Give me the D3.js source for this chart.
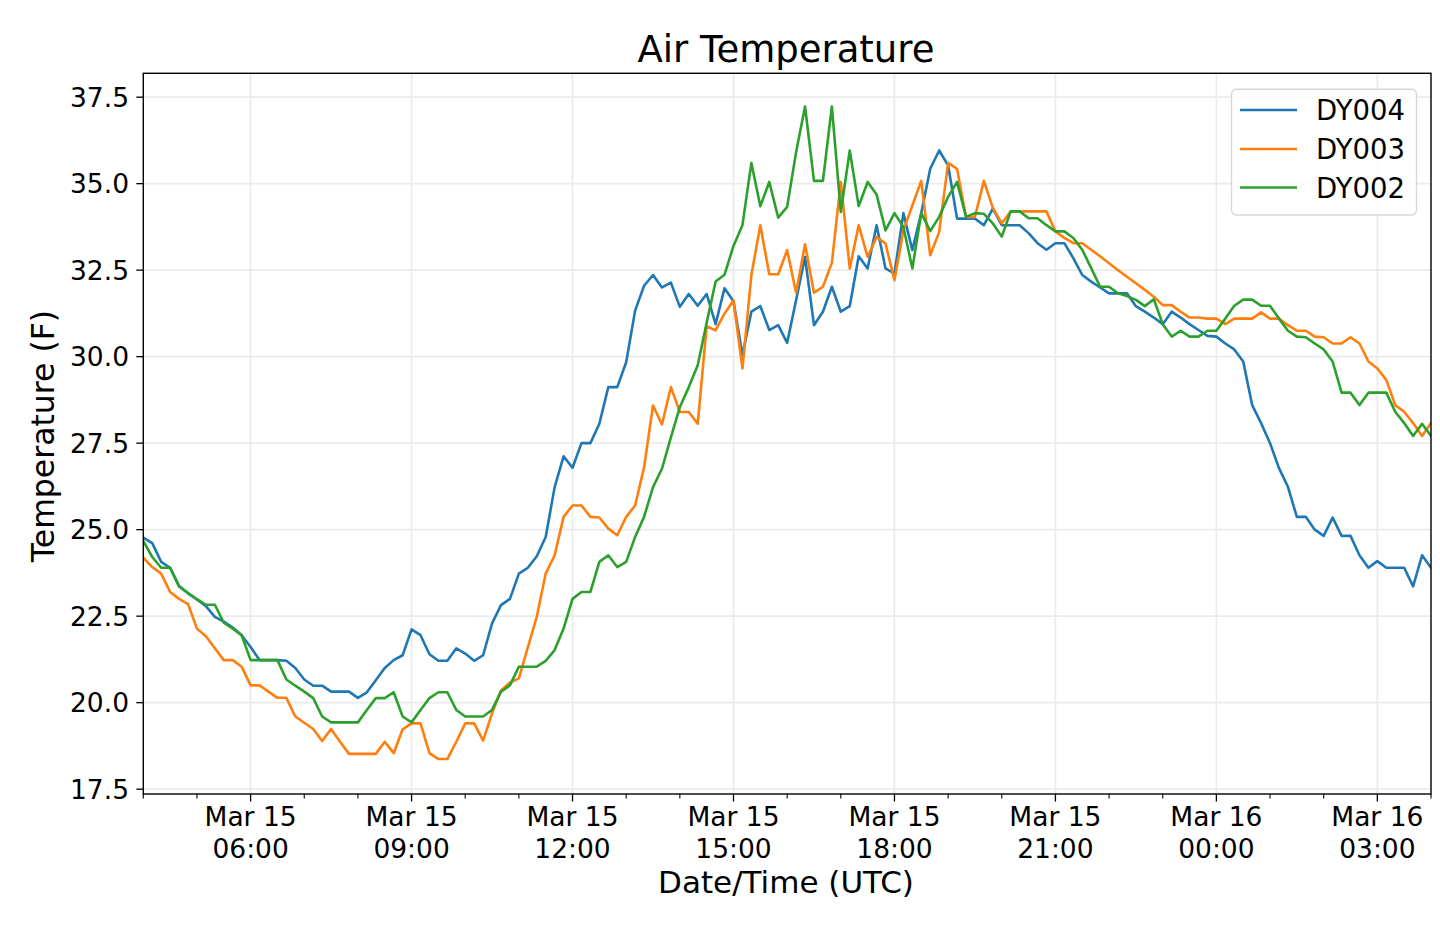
<!DOCTYPE html>
<html>
<head>
<meta charset="utf-8">
<script src="https://cdn.jsdelivr.net/npm/d3@7"></script>
<style>
  html, body { margin: 0; padding: 0; background: #fff; }
  svg { display: block; font-family: "DejaVu Sans", sans-serif; }
</style>
</head>
<body>
<svg id="chart" width="1440" height="925"></svg>
<script>
// ---------- data ----------
const startTime = "2019-03-15T04:00:00Z";
const endTime = "2019-03-16T04:00:00Z";
const stepMinutes = 10;

const seriesNames = ["DY004", "DY003", "DY002"];
const seriesColors = ["#1f77b4", "#ff7f0e", "#2ca02c"];

const dy004 = [24.77,24.61,24.07,23.9,23.36,23.16,22.98,22.79,22.48,22.34,22.17,21.95,21.61,21.23,21.23,21.23,21.21,21.0,20.67,20.49,
  20.49,20.32,20.32,20.32,20.14,20.3,20.65,21.0,21.23,21.37,22.12,21.95,21.4,21.21,21.21,21.57,21.42,21.21,21.37,22.29,
  22.82,23.0,23.73,23.9,24.23,24.79,26.23,27.12,26.79,27.5,27.5,28.06,29.12,29.12,29.84,31.33,32.05,32.36,32.0,32.14,
  31.44,31.81,31.47,31.81,30.94,31.98,31.6,30.05,31.3,31.46,30.77,30.91,30.4,31.63,32.88,30.91,31.3,32.02,31.3,31.46,
  32.9,32.55,33.8,32.55,32.4,34.15,33.08,34.15,35.43,35.96,35.53,33.99,33.99,33.99,33.8,34.28,33.8,33.8,33.8,33.57,
  33.28,33.09,33.28,33.28,32.85,32.36,32.17,32.0,31.83,31.83,31.83,31.46,31.3,31.13,30.94,31.3,31.13,30.94,30.77,30.6,
  30.58,30.38,30.21,29.86,28.6,28.08,27.5,26.78,26.24,25.37,25.37,25.0,24.82,25.35,24.82,24.82,24.26,23.9,24.09,23.9,
  23.9,23.9,23.36,24.26,23.9];

const dy003 = [24.19,23.92,23.73,23.2,23.0,22.85,22.14,21.92,21.57,21.23,21.23,21.04,20.5,20.5,20.32,20.14,20.14,19.6,19.42,19.24,
  18.89,19.24,18.87,18.52,18.52,18.52,18.52,18.87,18.54,19.23,19.4,19.4,18.54,18.37,18.37,18.87,19.4,19.4,18.9,19.69,
  20.35,20.58,20.7,21.6,22.48,23.73,24.26,25.37,25.7,25.7,25.37,25.35,25.03,24.84,25.37,25.7,26.8,28.59,28.04,29.12,
  28.4,28.4,28.06,30.88,30.76,31.25,31.62,29.66,32.36,33.8,32.38,32.38,33.08,31.85,33.25,31.85,32.02,32.71,35.05,32.55,
  33.8,32.88,33.46,33.27,32.21,33.65,34.37,35.08,32.93,33.6,35.6,35.43,34.04,34.04,35.08,34.3,33.85,34.2,34.2,34.2,
  34.2,34.2,33.62,33.43,33.28,33.28,33.09,32.9,32.7,32.5,32.31,32.12,31.93,31.73,31.49,31.49,31.3,31.13,31.13,31.1,
  31.1,30.94,31.1,31.1,31.1,31.28,31.1,31.1,30.91,30.75,30.75,30.58,30.56,30.38,30.38,30.56,30.38,29.86,29.66,29.33,
  28.6,28.41,28.08,27.71,28.08];

const dy002 = [24.67,24.21,23.9,23.9,23.37,23.17,22.99,22.83,22.83,22.31,22.14,21.95,21.23,21.23,21.23,21.23,20.67,20.49,20.32,20.13,
  19.6,19.43,19.43,19.43,19.43,19.79,20.13,20.13,20.3,19.6,19.43,19.79,20.13,20.3,20.3,19.79,19.6,19.6,19.6,19.79,
  20.32,20.5,21.04,21.04,21.04,21.21,21.52,22.14,23.0,23.2,23.2,24.07,24.26,23.92,24.07,24.79,25.37,26.23,26.76,27.67,
  28.54,29.12,29.75,30.98,32.17,32.37,33.2,33.8,35.6,34.35,35.05,34.02,34.33,35.91,37.23,35.08,35.08,37.23,34.18,35.96,
  34.35,35.05,34.69,33.65,34.15,33.75,32.55,34.15,33.63,34.04,34.62,35.05,34.04,34.15,34.13,33.85,33.47,34.2,34.2,34.0,
  34.0,33.8,33.62,33.62,33.43,33.09,32.56,32.02,32.02,31.83,31.75,31.64,31.46,31.66,30.94,30.58,30.75,30.58,30.58,30.75,
  30.75,31.1,31.47,31.65,31.65,31.47,31.47,31.1,30.75,30.58,30.56,30.38,30.21,29.86,28.96,28.96,28.6,28.96,28.96,28.96,
  28.41,28.08,27.71,28.06,27.71];

const yTicks = [17.5, 20.0, 22.5, 25.0, 27.5, 30.0, 32.5, 35.0, 37.5];
const yDomain = [17.36, 38.19];
const titleText = "Air Temperature";
const xLabelText = "Date/Time (UTC)";
const yLabelText = "Temperature (F)";

// ---------- layout ----------
const svg = d3.select("#chart");
const plot = { left: 143.3, right: 1431, top: 73.3, bottom: 794 };
const t0 = new Date(startTime), t1 = new Date(endTime);

const x = d3.scaleUtc().domain([t0, t1]).range([plot.left, plot.right]);
const y = d3.scaleLinear().domain(yDomain).range([plot.bottom, plot.top]);

const seriesData = [dy004, dy003, dy002];
const timeOf = i => d3.utcMinute.offset(t0, i * stepMinutes);

const majorTicks = d3.utcHour.every(3).range(t0, d3.utcMinute.offset(t1, 1));
const allHours = d3.utcHour.every(1).range(t0, d3.utcMinute.offset(t1, 1));
const minorTicks = allHours.filter(d => d.getUTCHours() % 3 !== 0);

// gridlines
const grid = svg.append("g").attr("stroke", "#ebebeb").attr("stroke-width", 1.7);
grid.selectAll("line.gx").data(majorTicks).join("line")
  .attr("x1", d => x(d)).attr("x2", d => x(d))
  .attr("y1", plot.top).attr("y2", plot.bottom);
grid.selectAll("line.gy").data(yTicks).join("line")
  .attr("x1", plot.left).attr("x2", plot.right)
  .attr("y1", d => y(d)).attr("y2", d => y(d));

// lines
svg.append("clipPath").attr("id", "clip").append("rect")
  .attr("x", plot.left).attr("y", plot.top)
  .attr("width", plot.right - plot.left).attr("height", plot.bottom - plot.top);

const line = d3.line().x((d, i) => x(timeOf(i))).y(d => y(d));
svg.append("g").attr("clip-path", "url(#clip)")
  .selectAll("path").data(seriesData).join("path")
  .attr("d", d => line(d))
  .attr("fill", "none")
  .attr("stroke", (d, i) => seriesColors[i])
  .attr("stroke-width", 2.6)
  .attr("stroke-linejoin", "round")
  .attr("stroke-linecap", "square");

// frame
svg.append("rect")
  .attr("x", plot.left).attr("y", plot.top)
  .attr("width", plot.right - plot.left).attr("height", plot.bottom - plot.top)
  .attr("fill", "none").attr("stroke", "#000").attr("stroke-width", 1.4);

// x axis ticks
const xAx = svg.append("g");
xAx.selectAll("line.maj").data(majorTicks).join("line")
  .attr("x1", d => x(d)).attr("x2", d => x(d))
  .attr("y1", plot.bottom).attr("y2", plot.bottom + 7.5)
  .attr("stroke", "#000").attr("stroke-width", 1.3);
xAx.selectAll("line.min").data(minorTicks).join("line")
  .attr("x1", d => x(d)).attr("x2", d => x(d))
  .attr("y1", plot.bottom).attr("y2", plot.bottom + 4.5)
  .attr("stroke", "#000").attr("stroke-width", 1.1);
const fmtDate = d3.utcFormat("%b %d"), fmtTime = d3.utcFormat("%H:%M");
const xl = xAx.selectAll("text").data(majorTicks).join("text")
  .attr("text-anchor", "middle").attr("font-size", 26.5).attr("fill", "#000");
xl.append("tspan").attr("x", d => x(d)).attr("y", 826).text(d => fmtDate(d));
xl.append("tspan").attr("x", d => x(d)).attr("y", 857.5).text(d => fmtTime(d));

// y axis ticks
const yAx = svg.append("g");
yAx.selectAll("line").data(yTicks).join("line")
  .attr("x1", plot.left - 7).attr("x2", plot.left)
  .attr("y1", d => y(d)).attr("y2", d => y(d))
  .attr("stroke", "#000").attr("stroke-width", 1.3);
yAx.selectAll("text").data(yTicks).join("text")
  .attr("x", 129).attr("y", d => y(d) + 9.8)
  .attr("text-anchor", "end").attr("font-size", 26.5).attr("fill", "#000")
  .text(d => d3.format(".1f")(d));

// titles
svg.append("text").attr("x", 786).attr("y", 62)
  .attr("text-anchor", "middle").attr("font-size", 37).text(titleText);
svg.append("text").attr("x", 786).attr("y", 893)
  .attr("text-anchor", "middle").attr("font-size", 31).text(xLabelText);
svg.append("text")
  .attr("transform", `translate(54, 436) rotate(-90)`)
  .attr("text-anchor", "middle").attr("font-size", 31.5).text(yLabelText);

// legend
const lg = svg.append("g");
lg.append("rect").attr("x", 1231.5).attr("y", 89.3).attr("width", 185).attr("height", 125.7)
  .attr("rx", 5).attr("fill", "#fff").attr("fill-opacity", 0.8)
  .attr("stroke", "#d6d6d6").attr("stroke-width", 1.4);
const rowsY = [110, 149, 187.5];
seriesNames.forEach((name, i) => {
  lg.append("line").attr("x1", 1240).attr("x2", 1297)
    .attr("y1", rowsY[i]).attr("y2", rowsY[i])
    .attr("stroke", seriesColors[i]).attr("stroke-width", 2.6);
  lg.append("text").attr("x", 1316).attr("y", rowsY[i] + 10)
    .attr("font-size", 27.5).attr("fill", "#000").text(name);
});
</script>
</body>
</html>
